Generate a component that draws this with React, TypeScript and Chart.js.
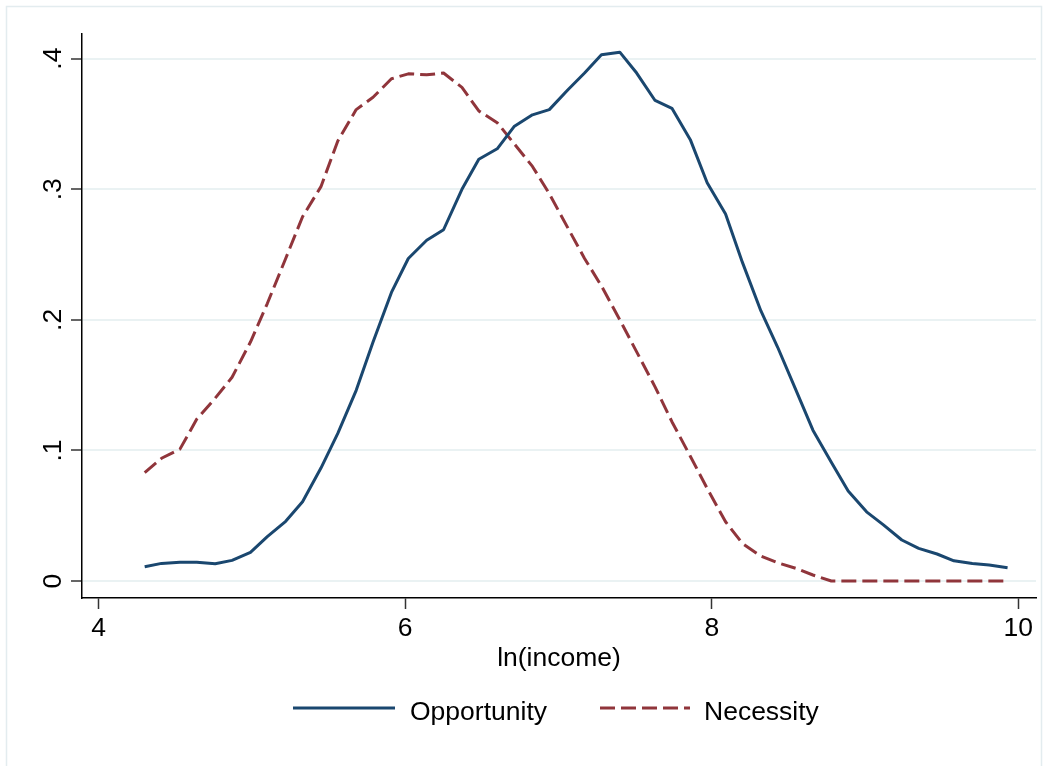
import React, { useEffect, useRef } from "react";
import { Chart, registerables } from "chart.js";

Chart.register(...registerables);

// Evaluation grid for ln(income)
const incomeGrid = [
  4.30, 4.41, 4.53, 4.64, 4.76, 4.87, 4.99, 5.10, 5.22, 5.33,
  5.45, 5.56, 5.68, 5.79, 5.91, 6.02, 6.14, 6.25, 6.37, 6.48,
  6.60, 6.71, 6.83, 6.94, 7.06, 7.17, 7.28, 7.40, 7.51, 7.63,
  7.74, 7.86, 7.97, 8.09, 8.20, 8.32, 8.43, 8.55, 8.66, 8.78,
  8.89, 9.01, 9.12, 9.24, 9.35, 9.47, 9.58, 9.70, 9.81, 9.93,
];

// Kernel density, opportunity entrepreneurs
const opportunity = [
  0.011, 0.0135, 0.0143, 0.0143, 0.0132, 0.0158, 0.022, 0.034, 0.0457, 0.0607,
  0.0865, 0.113, 0.146, 0.183, 0.221, 0.247, 0.261, 0.269, 0.300, 0.323,
  0.331, 0.348, 0.357, 0.361, 0.376, 0.389, 0.403, 0.405, 0.389, 0.368,
  0.362, 0.338, 0.305, 0.281, 0.244, 0.207, 0.179, 0.146, 0.1155, 0.091,
  0.069, 0.053, 0.043, 0.0314, 0.025, 0.0207, 0.0155, 0.0135, 0.0122, 0.0102,
];

// Kernel density, necessity entrepreneurs
const necessity = [
  0.083, 0.094, 0.101, 0.124, 0.140, 0.156, 0.183, 0.2125, 0.247, 0.279,
  0.302, 0.337, 0.361, 0.3705, 0.3846, 0.3884, 0.3877, 0.389, 0.378, 0.360,
  0.351, 0.335, 0.3175, 0.2966, 0.2706, 0.247, 0.226, 0.200, 0.1755, 0.1487,
  0.122, 0.0956, 0.0709, 0.0454, 0.0288, 0.0191, 0.014, 0.0097, 0.0046, 0,
  0, 0, 0, 0, 0, 0, 0, 0, 0, 0,
];

const xTickValues = [4, 6, 8, 10];
const yTickValues = [0, 0.1, 0.2, 0.3, 0.4];
const yTickLabels = ["0", ".1", ".2", ".3", ".4"];
const seriesNames = ["Opportunity", "Necessity"];
const xTitle = "ln(income)";

const FONT = '"Liberation Sans", Arial, Helvetica, sans-serif';
const FONT_SIZE = 26.5;
const NAVY = "#1a476f";
const MAROON = "#90353b";
const GRID = "#eaf2f3";
const FRAME = "#e3ecef";
const NECESSITY_DASH = [15, 6];

const W = 1049;
const H = 766;

// Background, outer frame, rotated y labels, x title and legend
const decorPlugin = {
  id: "decor",
  beforeDraw(chart: any) {
    const ctx = chart.ctx;
    ctx.save();
    ctx.fillStyle = "#ffffff";
    ctx.fillRect(0, 0, W, H);
    ctx.strokeStyle = FRAME;
    ctx.lineWidth = 1.5;
    ctx.strokeRect(6.5, 6.5, 1035, H + 10);
    ctx.restore();
  },
  afterDraw(chart: any) {
    const ctx = chart.ctx;
    const yScale = chart.scales.y;
    const area = chart.chartArea;
    ctx.save();
    ctx.font = `${FONT_SIZE}px ${FONT}`;
    ctx.fillStyle = "#000";

    // y tick labels, reading bottom to top
    ctx.textAlign = "center";
    ctx.textBaseline = "alphabetic";
    yTickValues.forEach((v, i) => {
      const py = yScale.getPixelForValue(v);
      ctx.save();
      ctx.translate(61, py);
      ctx.rotate(-Math.PI / 2);
      ctx.fillText(yTickLabels[i], 0, 0);
      ctx.restore();
    });

    // x axis title
    ctx.textAlign = "center";
    ctx.fillText(xTitle, (area.left + area.right) / 2, 666);

    // legend
    const ds = chart.data.datasets;
    const keys = [
      { x0: 293, x1: 395, tx: 410 },
      { x0: 600, x1: 690, tx: 704 },
    ];
    keys.forEach((k, i) => {
      const d = ds[i];
      ctx.save();
      ctx.strokeStyle = d.borderColor;
      ctx.lineWidth = d.borderWidth;
      ctx.setLineDash(d.borderDash || []);
      ctx.beginPath();
      ctx.moveTo(k.x0, 708);
      ctx.lineTo(k.x1, 708);
      ctx.stroke();
      ctx.restore();
      ctx.textAlign = "left";
      ctx.fillText(d.label, k.tx, 720);
    });
    ctx.restore();
  },
};

export default function App() {
  const canvasRef = useRef<HTMLCanvasElement | null>(null);

  useEffect(() => {
    const canvas = canvasRef.current;
    if (!canvas) return;
    const chart = new Chart(canvas, {
      type: "line",
      data: {
        datasets: [
          {
            label: seriesNames[0],
            data: incomeGrid.map((x, i) => ({ x, y: opportunity[i] })),
            borderColor: NAVY,
            borderWidth: 3,
            pointRadius: 0,
            tension: 0,
            borderJoinStyle: "round",
            fill: false,
          },
          {
            label: seriesNames[1],
            data: incomeGrid.map((x, i) => ({ x, y: necessity[i] })),
            borderColor: MAROON,
            borderWidth: 3,
            borderDash: NECESSITY_DASH,
            pointRadius: 0,
            tension: 0,
            borderJoinStyle: "round",
            fill: false,
          },
        ],
      },
      options: {
        responsive: false,
        animation: false,
        devicePixelRatio: 1,
        layout: { padding: { top: 34, right: 13, left: 0, bottom: 0 } },
        plugins: {
          legend: { display: false },
          tooltip: { enabled: false },
        },
        scales: {
          x: {
            type: "linear",
            min: 3.891,
            max: 10.1155,
            afterBuildTicks: (s: any) => {
              s.ticks = xTickValues.map((v) => ({ value: v }));
            },
            afterFit: (s: any) => {
              s.height = 168;
            },
            grid: {
              drawOnChartArea: false,
              drawTicks: true,
              tickLength: 11,
              tickColor: "#333",
              tickWidth: 1.5,
            },
            border: { display: true, color: "#000", width: 1.5 },
            ticks: {
              font: { family: FONT, size: FONT_SIZE },
              color: "#000",
              padding: 4,
              maxRotation: 0,
              minRotation: 0,
              autoSkip: false,
              callback: (v: any) => String(v),
            },
          },
          y: {
            type: "linear",
            min: -0.013,
            max: 0.4189,
            afterBuildTicks: (s: any) => {
              s.ticks = yTickValues.map((v) => ({ value: v }));
            },
            afterFit: (s: any) => {
              s.width = 82;
            },
            grid: {
              color: GRID,
              lineWidth: 2,
              drawTicks: true,
              tickLength: 11,
              tickColor: "#333",
              tickWidth: 1.5,
            },
            border: { display: true, color: "#000", width: 1.5 },
            ticks: { display: false },
          },
        },
      },
      plugins: [decorPlugin],
    } as any);
    return () => chart.destroy();
  }, []);

  return (
    <div style={{ position: "absolute", left: 0, top: 0, width: W, height: H }}>
      <canvas ref={canvasRef} width={W} height={H} style={{ display: "block" }} />
    </div>
  );
}
